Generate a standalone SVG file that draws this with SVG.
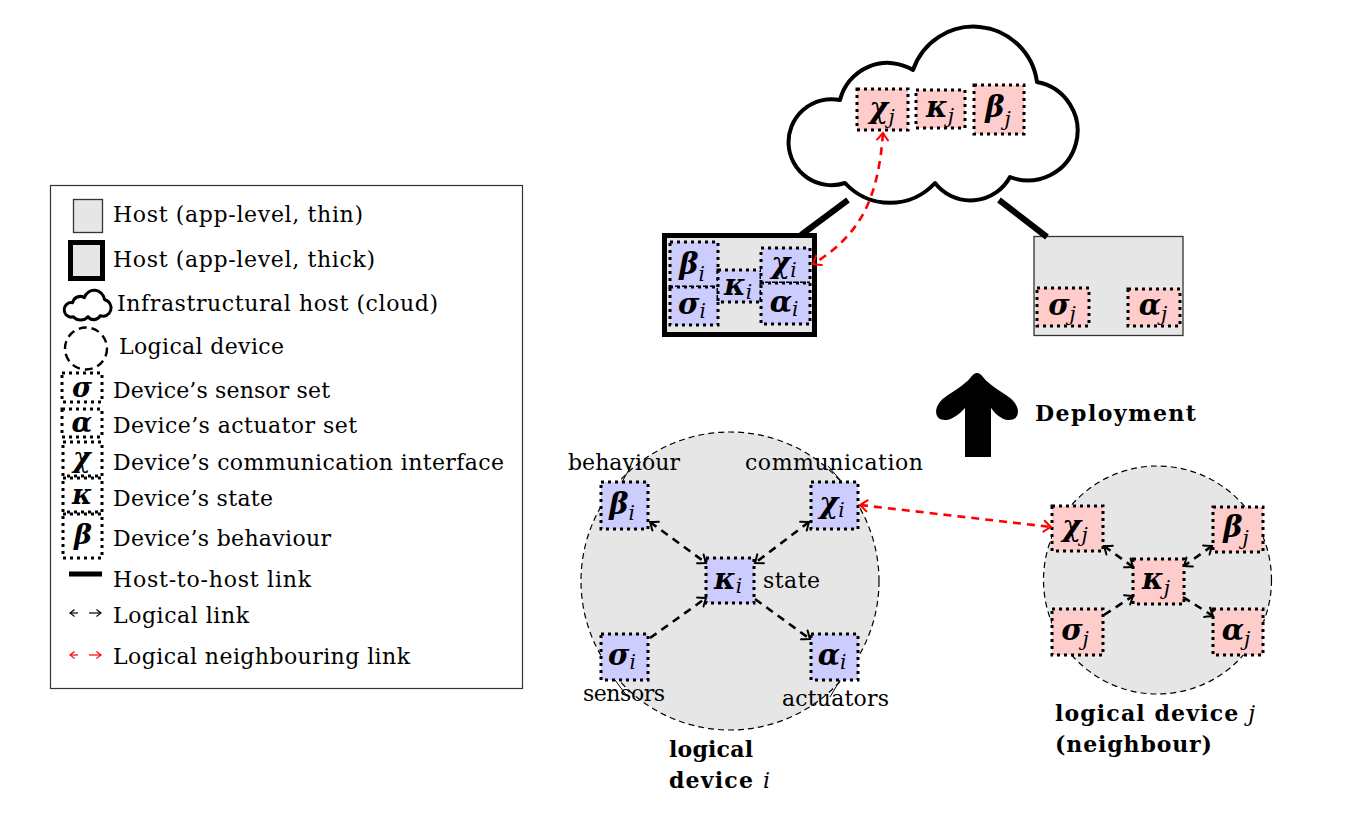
<svg xmlns="http://www.w3.org/2000/svg" width="1351" height="817" viewBox="0 0 1351 817">
<defs>
<style>
.t{font-family:"DejaVu Serif","Liberation Serif",serif;font-size:22px;fill:#000}
.b{font-weight:bold}
.it{font-style:italic;font-weight:normal}
.g{font-family:"DejaVu Serif","Liberation Serif",serif;font-weight:bold;font-style:italic;font-size:29px;fill:#000}
.gl{font-size:27px}
.sub{font-style:italic;font-weight:normal;font-size:20px}
.dot{stroke:#000;stroke-width:3;stroke-dasharray:3 4}
.blue{fill:#ccccff}
.pink{fill:#ffcccc}
.host{fill:#e6e6e6}
.dev{fill:#e6e6e6;stroke:#000;stroke-width:1.2;stroke-dasharray:6 4}
.ll{stroke:#000;stroke-width:2.6;stroke-dasharray:8 6;fill:none}
.rl{stroke:#ff0000;stroke-width:2.6;stroke-dasharray:8 6;fill:none}
.link{stroke:#000;stroke-width:6;stroke-linecap:butt}
.pin{stroke:#000;stroke-width:1;fill:none}
.cloud{fill:#fff;stroke:#000;stroke-linejoin:round}
</style>
<marker id="ah" viewBox="-10 -7 12 14" refX="0" refY="0" markerWidth="12" markerHeight="14" markerUnits="userSpaceOnUse" orient="auto-start-reverse">
<path d="M-7,-5.5 Q-2,-1.5 0,0 Q-2,1.5 -7,5.5" fill="none" stroke="#000" stroke-width="2" stroke-linecap="round" stroke-dasharray="none"/>
</marker>
<marker id="ahr" viewBox="-10 -7 12 14" refX="0" refY="0" markerWidth="12" markerHeight="14" markerUnits="userSpaceOnUse" orient="auto-start-reverse">
<path d="M-7,-5.5 Q-2,-1.5 0,0 Q-2,1.5 -7,5.5" fill="none" stroke="#ff0000" stroke-width="2" stroke-linecap="round" stroke-dasharray="none"/>
</marker>
<marker id="ahs" viewBox="-6 -5 8 10" refX="0" refY="0" markerWidth="8" markerHeight="10" markerUnits="userSpaceOnUse" orient="auto-start-reverse">
<path d="M-4.5,-3.5 Q-1.5,-1 0,0 Q-1.5,1 -4.5,3.5" fill="none" stroke="#000" stroke-width="1.2" stroke-dasharray="none"/>
</marker>
<marker id="ahsr" viewBox="-6 -5 8 10" refX="0" refY="0" markerWidth="8" markerHeight="10" markerUnits="userSpaceOnUse" orient="auto-start-reverse">
<path d="M-4.5,-3.5 Q-1.5,-1 0,0 Q-1.5,1 -4.5,3.5" fill="none" stroke="#ff0000" stroke-width="1.2" stroke-dasharray="none"/>
</marker>
<path id="cloudp" d="M845 183 A43 43 0 1 1 840 100 A49 49 0 0 1 913 70 A64 64 0 0 1 1037 82 A49.6 49.6 0 1 1 1010 177 A45 45 0 0 1 935 183 A61 61 0 0 1 845 183 Z"/>
</defs>

<rect width="1351" height="817" fill="#fff"/>

<!-- Legend -->
<g id="legend">
<rect x="50.5" y="185.5" width="472" height="503" fill="#fff" stroke="#333" stroke-width="1.2"/>
<rect class="host" x="73.5" y="199.5" width="29" height="33" stroke="#333" stroke-width="1.3"/>
<text class="t" x="113" y="222" textLength="250">Host (app-level, thin)</text>
<rect class="host" x="70.5" y="242.5" width="32" height="36" stroke="#000" stroke-width="5"/>
<text class="t" x="113" y="267" textLength="262">Host (app-level, thick)</text>
<use href="#cloudp" class="cloud" stroke-width="18" transform="translate(64,290) scale(0.162,0.169) translate(-787,-25)"/>
<text class="t" x="117" y="311" textLength="321">Infrastructural host (cloud)</text>
<circle cx="86" cy="348.5" r="21" fill="none" stroke="#000" stroke-width="2.4" stroke-dasharray="8 5"/>
<text class="t" x="119" y="354" textLength="165">Logical device</text>
<rect class="dot" x="62" y="373" width="40" height="29" fill="none"/>
<text class="g gl" x="82" y="397" text-anchor="middle">σ</text>
<text class="t" x="113" y="398" textLength="217">Device’s sensor set</text>
<rect class="dot" x="62" y="409" width="40" height="28" fill="none"/>
<text class="g gl" x="82" y="432" text-anchor="middle">α</text>
<text class="t" x="113" y="433" textLength="244">Device’s actuator set</text>
<rect class="dot" x="63" y="442" width="39" height="34" fill="none"/>
<text class="g gl" x="82" y="467" text-anchor="middle">χ</text>
<text class="t" x="113" y="470" textLength="391">Device’s communication interface</text>
<rect class="dot" x="63" y="478" width="39" height="34" fill="none"/>
<text class="g gl" x="82" y="504" text-anchor="middle">κ</text>
<text class="t" x="113" y="506" textLength="160">Device’s state</text>
<rect class="dot" x="63" y="514" width="39" height="44" fill="none"/>
<text class="g gl" x="83" y="544" text-anchor="middle">β</text>
<text class="t" x="113" y="546" textLength="218">Device’s behaviour</text>
<line x1="69" y1="574" x2="102" y2="574" stroke="#000" stroke-width="5"/>
<text class="t" x="113" y="587" textLength="198">Host-to-host link</text>
<line x1="70" y1="613" x2="78" y2="613" stroke="#000" stroke-width="1.2" marker-start="url(#ahs)"/>
<line x1="89" y1="613" x2="101" y2="613" stroke="#000" stroke-width="1.2" marker-end="url(#ahs)"/>
<text class="t" x="113" y="623" textLength="136">Logical link</text>
<line x1="70" y1="655" x2="78" y2="655" stroke="#ff0000" stroke-width="1.2" marker-start="url(#ahsr)"/>
<line x1="89" y1="655" x2="101" y2="655" stroke="#ff0000" stroke-width="1.2" marker-end="url(#ahsr)"/>
<text class="t" x="113" y="664" textLength="297">Logical neighbouring link</text>
</g>

<!-- Cloud (infrastructural host) -->
<g id="cloud">
<use href="#cloudp" class="cloud" stroke-width="4"/>
<rect class="pink dot" x="857" y="89" width="51" height="41"/>
<text class="g" x="882" y="118" text-anchor="middle">χ<tspan class="sub" dy="6">j</tspan></text>
<rect class="pink dot" x="916" y="90" width="49" height="38"/>
<text class="g" x="940" y="117" text-anchor="middle">κ<tspan class="sub" dy="6">j</tspan></text>
<rect class="pink dot" x="974" y="85" width="50" height="49"/>
<text class="g" x="998" y="117" text-anchor="middle">β<tspan class="sub" dy="9">j</tspan></text>
</g>

<!-- Host i (thick) -->
<g id="host-i">
<rect class="host" x="664.5" y="235.5" width="150" height="99" stroke="#000" stroke-width="5"/>
<rect class="blue dot" x="670" y="242" width="48" height="45"/>
<text class="g" x="692" y="274" text-anchor="middle">β<tspan class="sub" dy="7">i</tspan></text>
<rect class="blue dot" x="670" y="287" width="48" height="38"/>
<text class="g" x="692" y="314" text-anchor="middle">σ<tspan class="sub" dy="4">i</tspan></text>
<rect class="blue dot" x="718" y="270" width="43" height="32"/>
<text class="g" x="738" y="295" text-anchor="middle">κ<tspan class="sub" dy="4">i</tspan></text>
<rect class="blue dot" x="761" y="248" width="49" height="35"/>
<text class="g" x="784" y="273" text-anchor="middle">χ<tspan class="sub" dy="4">i</tspan></text>
<rect class="blue dot" x="761" y="283" width="49" height="41"/>
<text class="g" x="784" y="312" text-anchor="middle">α<tspan class="sub" dy="4">i</tspan></text>
</g>

<!-- Host j (thin) -->
<g id="host-j">
<rect class="host" x="1034" y="236.5" width="149" height="99" stroke="#333" stroke-width="1.3"/>
<rect class="pink dot" x="1037" y="288" width="52" height="38"/>
<text class="g" x="1062" y="315" text-anchor="middle">σ<tspan class="sub" dy="6">j</tspan></text>
<rect class="pink dot" x="1128" y="289" width="52" height="37"/>
<text class="g" x="1153" y="315" text-anchor="middle">α<tspan class="sub" dy="6">j</tspan></text>
</g>

<!-- Deployment arrow -->
<g id="deployment">
<path d="M965 457 L965 408 Q956 418 947 420 Q936 421 936 411 Q937 402 948 395 Q967 383 971 377 Q977 369 983 377 Q987 383 1006 395 Q1017 402 1018 411 Q1018 421 1007 420 Q998 418 991 408 L991 457 Z" fill="#000"/>
<text class="t b" x="1035" y="421" textLength="161">Deployment</text>
</g>

<!-- Logical device i -->
<g id="device-i">
<circle class="dev" cx="730" cy="581" r="149"/>
<rect class="blue dot" x="601" y="482" width="47" height="47"/>
<text class="g" x="622" y="514" text-anchor="middle">β<tspan class="sub" dy="6">i</tspan></text>
<rect class="blue dot" x="811" y="482" width="47" height="47"/>
<text class="g" x="832" y="513" text-anchor="middle">χ<tspan class="sub" dy="4">i</tspan></text>
<rect class="blue dot" x="706" y="558" width="48" height="45"/>
<text class="g" x="728" y="589" text-anchor="middle">κ<tspan class="sub" dy="4">i</tspan></text>
<rect class="blue dot" x="601" y="634" width="47" height="46"/>
<text class="g" x="622" y="665" text-anchor="middle">σ<tspan class="sub" dy="4">i</tspan></text>
<rect class="blue dot" x="811" y="634" width="47" height="46"/>
<text class="g" x="832" y="665" text-anchor="middle">α<tspan class="sub" dy="4">i</tspan></text>
<line class="pin" x1="631" y1="466" x2="622" y2="482"/>
<line class="pin" x1="828" y1="466" x2="842" y2="482"/>
<line class="pin" x1="615" y1="680" x2="627" y2="696"/>
<line class="pin" x1="840" y1="680" x2="830" y2="697"/>
<text class="t" x="568" y="470" textLength="112">behaviour</text>
<text class="t" x="745" y="470" textLength="178">communication</text>
<text class="t" x="763" y="588" textLength="57">state</text>
<text class="t" x="583" y="701" textLength="82">sensors</text>
<text class="t" x="782" y="706" textLength="107">actuators</text>
<text class="t b" x="669" y="757" textLength="84">logical</text>
<text class="t b" x="669" y="788" textLength="101">device <tspan class="it">i</tspan></text>
</g>

<!-- Logical device j -->
<g id="device-j">
<circle class="dev" cx="1157.5" cy="580" r="114"/>
<rect class="pink dot" x="1052" y="506" width="51" height="45"/>
<text class="g" x="1075" y="536" text-anchor="middle">χ<tspan class="sub" dy="6">j</tspan></text>
<rect class="pink dot" x="1213" y="507" width="50" height="45"/>
<text class="g" x="1236" y="537" text-anchor="middle">β<tspan class="sub" dy="8">j</tspan></text>
<rect class="pink dot" x="1133" y="559" width="51" height="45"/>
<text class="g" x="1156" y="589" text-anchor="middle">κ<tspan class="sub" dy="6">j</tspan></text>
<rect class="pink dot" x="1052" y="609" width="51" height="46"/>
<text class="g" x="1075" y="640" text-anchor="middle">σ<tspan class="sub" dy="6">j</tspan></text>
<rect class="pink dot" x="1213" y="609" width="50" height="46"/>
<text class="g" x="1236" y="640" text-anchor="middle">α<tspan class="sub" dy="6">j</tspan></text>
<text class="t b" x="1055" y="721" textLength="200">logical device <tspan class="it">j</tspan></text>
<text class="t b" x="1055" y="752" textLength="157">(neighbour)</text>
</g>

<!-- Connectors -->
<g id="connectors">
<line class="link" x1="848" y1="200" x2="801" y2="235"/>
<line class="link" x1="999" y1="200" x2="1047" y2="237"/>
<path class="rl" d="M883 133 C878 200 860 235 813 264" marker-start="url(#ahr)" marker-end="url(#ahr)"/>
<line class="ll" x1="650" y1="522" x2="706" y2="563" marker-start="url(#ah)" marker-end="url(#ah)"/>
<line class="ll" x1="809" y1="522" x2="755" y2="563" marker-start="url(#ah)" marker-end="url(#ah)"/>
<line class="ll" x1="650" y1="638" x2="706" y2="598" marker-end="url(#ah)"/>
<line class="ll" x1="755" y1="599" x2="810" y2="639" marker-end="url(#ah)"/>
<line class="rl" x1="860" y1="505" x2="1051" y2="527" marker-start="url(#ahr)" marker-end="url(#ahr)"/>
<line class="ll" x1="1104" y1="546" x2="1133" y2="567" marker-start="url(#ah)" marker-end="url(#ah)"/>
<line class="ll" x1="1212" y1="546" x2="1184" y2="566" marker-start="url(#ah)" marker-end="url(#ah)"/>
<line class="ll" x1="1104" y1="615" x2="1133" y2="596" marker-end="url(#ah)"/>
<line class="ll" x1="1183" y1="597" x2="1213" y2="616" marker-end="url(#ah)"/>
</g>
</svg>
